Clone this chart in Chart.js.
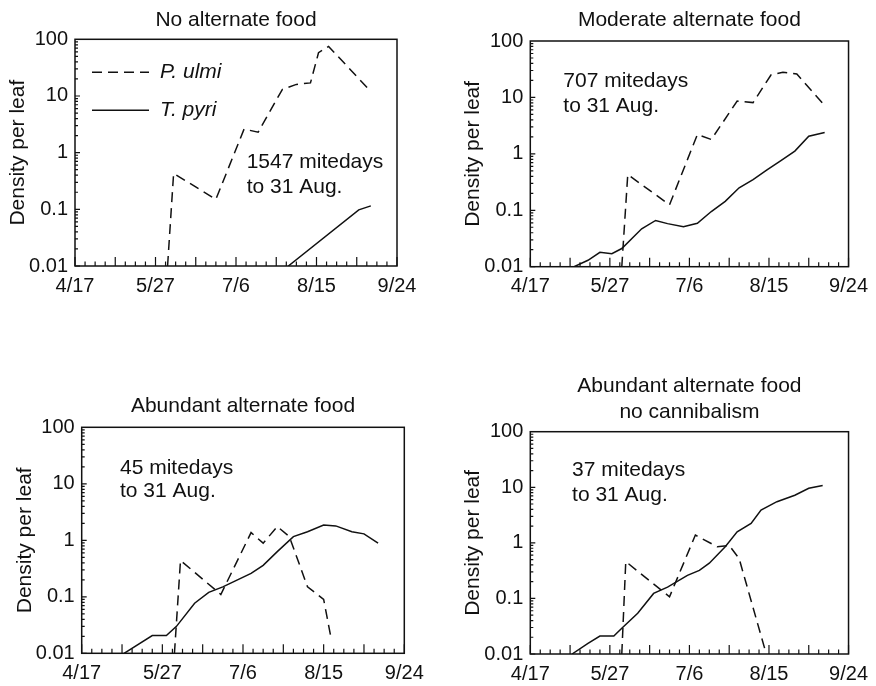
<!DOCTYPE html>
<html>
<head>
<meta charset="utf-8">
<script src="https://cdn.jsdelivr.net/npm/chart.js@4.4.0/dist/chart.umd.min.js"></script>
<style>
  body { margin: 0; background: #fff; }
  .panel { position: absolute; }
</style>
</head>
<body>
<div class="panel" style="left:0;top:0"><canvas id="c1" width="438" height="300"></canvas></div>
<div class="panel" style="left:438px;top:0"><canvas id="c2" width="438" height="300"></canvas></div>
<div class="panel" style="left:0;top:300px"><canvas id="c3" width="438" height="386"></canvas></div>
<div class="panel" style="left:438px;top:300px"><canvas id="c4" width="438" height="386"></canvas></div>
<script>
// eixo x: dias desde 4/17
const dayTicks = [0, 40, 80, 120, 160];
const dayLabels = ["4/17", "5/27", "7/6", "8/15", "9/24"];
const densityTicks = [0.01, 0.1, 1, 10, 100];
const seriesNames = ["P. ulmi", "T. pyri"];
const mitedays = ["1547 mitedays", "707 mitedays", "45 mitedays", "37 mitedays"];

// No alternate food
const ulmiNoneDays = [46, 49, 70, 84, 91, 103, 110, 117, 121, 126, 147];
const ulmiNoneVals = [0.01, 0.43, 0.15, 2.6, 2.3, 13, 16, 17, 58, 75, 12];
const pyriNoneDays = [106, 141, 147];
const pyriNoneVals = [0.01, 0.098, 0.115];

// Moderate alternate food
const ulmiModDays = [46, 49, 70, 84, 91, 104, 112, 121, 127, 134, 148];
const ulmiModVals = [0.01, 0.43, 0.125, 2.2, 1.8, 8.6, 8.1, 25, 28, 26, 7.2];
const pyriModDays = [22, 29, 35, 41, 46, 56, 63, 69, 77, 84, 91, 98, 105, 112, 119, 126, 133, 140, 148];
const pyriModVals = [0.01, 0.013, 0.018, 0.017, 0.021, 0.047, 0.066, 0.058, 0.051, 0.059, 0.095, 0.144, 0.25, 0.35, 0.52, 0.76, 1.12, 2.05, 2.4];

// Abundant alternate food
const ulmiAbDays = [46, 49, 69, 84, 90, 97, 103, 112, 120, 123.5];
const ulmiAbVals = [0.01, 0.44, 0.11, 1.37, 0.89, 1.75, 1.16, 0.15, 0.09, 0.02];
const pyriAbDays = [21, 35, 42, 47, 56, 63, 70, 84, 90, 97, 105, 112, 120, 126, 134, 140, 147];
const pyriAbVals = [0.01, 0.0206, 0.0206, 0.03, 0.077, 0.12, 0.15, 0.26, 0.36, 0.63, 1.16, 1.42, 1.86, 1.8, 1.42, 1.3, 0.89];

// Abundant alternate food, no cannibalism
const ulmiNcDays = [46, 48, 66, 70, 83, 94, 100, 105, 118];
const ulmiNcVals = [0.01, 0.46, 0.14, 0.107, 1.38, 0.85, 0.9, 0.52, 0.012];
const pyriNcDays = [21, 29, 35, 42, 46, 54, 62, 69, 79, 85, 90, 98, 104, 111, 116, 124, 133, 140, 147];
const pyriNcVals = [0.01, 0.0155, 0.021, 0.021, 0.029, 0.054, 0.123, 0.16, 0.26, 0.32, 0.43, 0.85, 1.58, 2.24, 3.9, 5.5, 7.2, 9.6, 10.8];

const FONT = "'Liberation Sans', Arial, Helvetica, sans-serif";
const INK = "#111";

function pontos(days, vals) {
    return days.map((d, i) => ({ x: d, y: vals[i] }));
}

// moldura, marcas internas dos eixos, texto e legenda
const molduraPlugin = {
    id: "moldura",
    afterDatasetsDraw(chart, args, opts) {
        const { ctx, chartArea: a, scales: { x, y } } = chart;
        ctx.save();
        ctx.strokeStyle = INK;
        ctx.lineWidth = 1.5;
        ctx.strokeRect(a.left, a.top, a.width, a.height);

        ctx.lineWidth = 1.2;
        ctx.beginPath();
        for (let d = 0; d <= 160; d += 5) {
            const px = x.getPixelForValue(d);
            const len = d % 20 === 0 ? 9 : 4.5;
            ctx.moveTo(px, a.bottom);
            ctx.lineTo(px, a.bottom - len);
        }
        for (let e = -2; e < 2; e++) {
            for (let m = 1; m < 10; m++) {
                const py = y.getPixelForValue(m * Math.pow(10, e));
                const len = m === 1 ? 5 : 3;
                ctx.moveTo(a.left, py);
                ctx.lineTo(a.left + len, py);
            }
        }
        ctx.stroke();

        ctx.fillStyle = INK;
        ctx.font = "21px " + FONT;
        ctx.textAlign = "left";
        ctx.textBaseline = "middle";
        const tx = x.getPixelForValue(opts.day);
        ctx.fillText(opts.text, tx, y.getPixelForValue(opts.vals[0]));
        ctx.fillText("to 31 Aug.", tx, y.getPixelForValue(opts.vals[1]));

        if (opts.legenda) {
            const ly = [a.top + 33, a.top + 71];
            ctx.lineWidth = 1.5;
            chart.data.datasets.forEach((ds, i) => {
                ctx.setLineDash(ds.borderDash || []);
                ctx.beginPath();
                ctx.moveTo(a.left + 17, ly[i]);
                ctx.lineTo(a.left + 74, ly[i]);
                ctx.stroke();
                ctx.setLineDash([]);
                ctx.font = "italic 21px " + FONT;
                ctx.fillText(ds.label, a.left + 85, ly[i]);
            });
        }
        ctx.restore();
    }
};

function painel(id, p) {
    new Chart(document.getElementById(id), {
        type: "line",
        data: {
            datasets: [
                {
                    label: seriesNames[0],
                    data: pontos(p.ulmiDays, p.ulmiVals),
                    borderColor: INK,
                    borderWidth: 1.5,
                    borderDash: [10, 6],
                    pointRadius: 0,
                    tension: 0
                },
                {
                    label: seriesNames[1],
                    data: pontos(p.pyriDays, p.pyriVals),
                    borderColor: INK,
                    borderWidth: 1.5,
                    pointRadius: 0,
                    tension: 0
                }
            ]
        },
        options: {
            responsive: false,
            animation: false,
            layout: { padding: { left: p.padLeft, right: p.padRight, top: 0, bottom: 0 } },
            plugins: {
                legend: { display: false },
                tooltip: { enabled: false },
                title: {
                    display: true,
                    text: p.title,
                    fullSize: false,
                    color: INK,
                    font: { family: FONT, size: 21, weight: "normal", lineHeight: 1.2 },
                    padding: { top: p.titleTop, bottom: p.titleBottom }
                },
                moldura: { text: p.text, day: p.textDay, vals: p.textVals, legenda: p.legenda }
            },
            scales: {
                x: {
                    type: "linear",
                    min: 0,
                    max: 160,
                    afterBuildTicks: ax => { ax.ticks = dayTicks.map(v => ({ value: v })); },
                    afterFit: ax => { ax.height = p.xAxisH; },
                    ticks: {
                        autoSkip: false,
                        maxRotation: 0,
                        padding: 8,
                        color: INK,
                        font: { family: FONT, size: 20 },
                        callback: v => dayLabels[dayTicks.indexOf(v)]
                    },
                    grid: { display: false, drawTicks: false },
                    border: { display: false }
                },
                y: {
                    type: "logarithmic",
                    min: 0.01,
                    max: 100,
                    afterBuildTicks: ax => { ax.ticks = densityTicks.map(v => ({ value: v })); },
                    afterFit: ax => { ax.width = 75; },
                    ticks: {
                        padding: 7,
                        color: INK,
                        font: { family: FONT, size: 20 },
                        callback: v => String(v)
                    },
                    grid: { display: false, drawTicks: false },
                    border: { display: false },
                    title: {
                        display: true,
                        text: "Density per leaf",
                        color: INK,
                        font: { family: FONT, size: 21, lineHeight: 1.2 },
                        padding: { top: 5.5 }
                    }
                }
            }
        },
        plugins: [molduraPlugin]
    });
}

painel("c1", {
    title: "No alternate food",
    ulmiDays: ulmiNoneDays, ulmiVals: ulmiNoneVals,
    pyriDays: pyriNoneDays, pyriVals: pyriNoneVals,
    text: mitedays[0], textDay: 85.3, textVals: [0.69, 0.25],
    legenda: true,
    padLeft: 0, padRight: 41, titleTop: 7.4, titleBottom: 6.7, xAxisH: 34
});
painel("c2", {
    title: "Moderate alternate food",
    ulmiDays: ulmiModDays, ulmiVals: ulmiModVals,
    pyriDays: pyriModDays, pyriVals: pyriModVals,
    text: mitedays[1], textDay: 16.6, textVals: [19.5, 7],
    padLeft: 17.3, padRight: 25, titleTop: 7.4, titleBottom: 8.4, xAxisH: 33.3
});
painel("c3", {
    title: "Abundant alternate food",
    ulmiDays: ulmiAbDays, ulmiVals: ulmiAbVals,
    pyriDays: pyriAbDays, pyriVals: pyriAbVals,
    text: mitedays[2], textDay: 19, textVals: [18.8, 7.3],
    padLeft: 6.7, padRight: 33.7, titleTop: 94.1, titleBottom: 8, xAxisH: 32.7
});
painel("c4", {
    title: ["Abundant alternate food", "no cannibalism"],
    ulmiDays: ulmiNcDays, ulmiVals: ulmiNcVals,
    pyriDays: pyriNcDays, pyriVals: pyriNcVals,
    text: mitedays[3], textDay: 21, textVals: [20.4, 7.3],
    padLeft: 17.3, padRight: 25, titleTop: 74.1, titleBottom: 7.2, xAxisH: 32
});
</script>
</body>
</html>
